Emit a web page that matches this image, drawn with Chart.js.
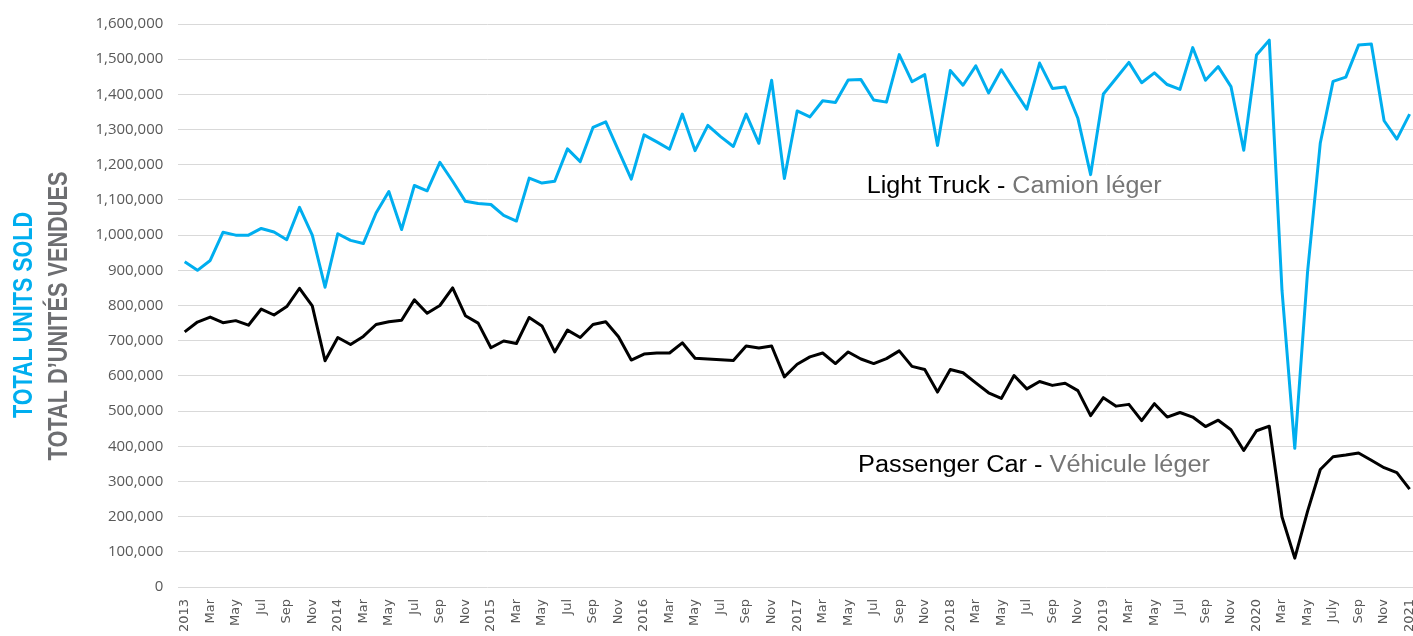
<!DOCTYPE html>
<html>
<head>
<meta charset="utf-8">
<style>
  html, body { margin: 0; padding: 0; background: #fff; overflow: hidden; }
  #wrap { width: 1413px; height: 636px; overflow: hidden; }
</style>
</head>
<body>
<div id="wrap"><canvas id="units-chart" width="1416" height="636"></canvas></div>
<script src="https://cdn.jsdelivr.net/npm/chart.js@4/dist/chart.umd.min.js"></script>
<script>
    // monthly, Jan 2013 .. Jan 2021
    var months = [
        '2013','Feb','Mar','Apr','May','Jun','Jul','Aug','Sep','Oct','Nov','Dec',
        '2014','Feb','Mar','Apr','May','Jun','Jul','Aug','Sep','Oct','Nov','Dec',
        '2015','Feb','Mar','Apr','May','Jun','Jul','Aug','Sep','Oct','Nov','Dec',
        '2016','Feb','Mar','Apr','May','Jun','Jul','Aug','Sep','Oct','Nov','Dec',
        '2017','Feb','Mar','Apr','May','Jun','Jul','Aug','Sep','Oct','Nov','Dec',
        '2018','Feb','Mar','Apr','May','Jun','Jul','Aug','Sep','Oct','Nov','Dec',
        '2019','Feb','Mar','Apr','May','Jun','Jul','Aug','Sep','Oct','Nov','Dec',
        '2020','Feb','Mar','Apr','May','Jun','July','Aug','Sep','Oct','Nov','Dec',
        '2021'
    ];

    var light_truck = [
        924000, 900000, 928000, 1008000, 1000000, 1000000, 1019000, 1009000, 987000, 1079000, 1000000, 852000,
        1004000, 985000, 976000, 1063000, 1124000, 1016000, 1141000, 1126000, 1207000, 1153000, 1096000, 1090000,
        1087000, 1056000, 1040000, 1162000, 1148000, 1153000, 1245000, 1209000, 1306000, 1322000, 1240000, 1159000,
        1285000, 1265000, 1244000, 1344000, 1240000, 1312000, 1280000, 1252000, 1344000, 1261000, 1440000, 1161000,
        1353000, 1336000, 1382000, 1377000, 1441000, 1442000, 1384000, 1378000, 1513000, 1436000, 1456000, 1255000,
        1468000, 1426000, 1481000, 1404000, 1470000, 1413000, 1358000, 1489000, 1417000, 1421000, 1332000, 1172000,
        1401000, 1446000, 1491000, 1433000, 1461000, 1428000, 1414000, 1533000, 1440000, 1479000, 1422000, 1241000,
        1512000, 1554000, 842000, 394000, 895000, 1262000, 1437000, 1449000, 1540000, 1543000, 1325000, 1273000,
        1344000
    ];

    var passenger_car = [
        725000, 753000, 767000, 751000, 757000, 744000, 790000, 773000, 797000, 849000, 799000, 643000,
        709000, 689000, 712000, 746000, 754000, 758000, 816000, 778000, 800000, 850000, 771000, 750000,
        680000, 699000, 692000, 766000, 742000, 668000, 730000, 709000, 746000, 754000, 711000, 645000,
        662000, 665000, 665000, 694000, 650000, 648000, 646000, 644000, 685000, 679000, 685000, 597000,
        633000, 654000, 665000, 635000, 668000, 648000, 635000, 649000, 671000, 627000, 618000, 554000,
        618000, 609000, 580000, 552000, 536000, 601000, 563000, 584000, 573000, 579000, 558000, 487000,
        538000, 514000, 519000, 473000, 521000, 483000, 496000, 483000, 456000, 474000, 447000, 388000,
        444000, 457000, 199000, 82000, 215000, 334000, 370000, 375000, 381000, 360000, 339000, 325000,
        278000
    ];

    var y_ticks = { min: 0, max: 1600000, step: 100000 };

    var blue = '#00aeef';
    var grey_text = '#767676';

    // series name labels: [x index, y value, english, french, width in px]
    var series_notes = [
        [53.45, 1119000, 'Light Truck - ', 'Camion léger', 295],
        [52.77, 326500, 'Passenger Car - ', 'Véhicule léger', 352]
    ];

    var axis_titles = [
        { text: 'TOTAL UNITS SOLD', color: blue, x: 32, y: 315, len: 206 },
        { text: 'TOTAL D\u2019UNITÉS VENDUES', color: '#6d6e71', x: 67, y: 316, len: 289 }
    ];

    var extra_text = {
        id: 'extra_text',
        afterDraw: function (chart) {
            var ctx = chart.ctx;
            var xs = chart.scales.x, ys = chart.scales.y;
            series_notes.forEach(function (n) {
                ctx.save();
                ctx.textBaseline = 'alphabetic';
                ctx.textAlign = 'left';
                ctx.font = '23px "Liberation Sans", Arial, sans-serif';
                var px = xs.getPixelForValue(n[0]);
                var py = ys.getPixelForValue(n[1]);
                var w1 = ctx.measureText(n[2]).width;
                var w2 = ctx.measureText(n[3]).width;
                ctx.translate(px, py);
                ctx.scale(n[4] / (w1 + w2), 1);
                ctx.fillStyle = '#000';
                ctx.fillText(n[2], 0, 0);
                ctx.fillStyle = grey_text;
                ctx.fillText(n[3], w1, 0);
                ctx.restore();
            });

            axis_titles.forEach(function (t) {
                ctx.save();
                ctx.font = 'bold 27px "Liberation Sans Narrow", "Liberation Sans", sans-serif';
                ctx.fillStyle = t.color;
                ctx.textAlign = 'center';
                ctx.textBaseline = 'alphabetic';
                ctx.translate(t.x, t.y);
                ctx.rotate(-Math.PI / 2);
                var w = ctx.measureText(t.text).width;
                ctx.scale(t.len / w, 1);
                ctx.fillText(t.text, 0, 0);
                ctx.restore();
            });
        }
    };

    new Chart(document.getElementById('units-chart'), {
        type: 'line',
        data: {
            labels: months,
            datasets: [{
                label: 'Light Truck - Camion léger',
                data: light_truck,
                borderColor: blue,
                borderWidth: 3,
                pointRadius: 0,
                tension: 0,
                fill: false,
                borderJoinStyle: 'round'
            }, {
                label: 'Passenger Car - Véhicule léger',
                data: passenger_car,
                borderColor: '#000000',
                borderWidth: 3,
                pointRadius: 0,
                tension: 0,
                fill: false,
                borderJoinStyle: 'round'
            }]
        },
        options: {
            responsive: false,
            animation: false,
            devicePixelRatio: 1,
            layout: { padding: { top: 22, left: 0, right: 0, bottom: 0 } },
            plugins: {
                legend: { display: false },
                tooltip: { enabled: false }
            },
            scales: {
                x: {
                    offset: true,
                    grid: { display: false, drawTicks: false },
                    border: { display: false },
                    ticks: {
                        autoSkip: false,
                        minRotation: 90,
                        maxRotation: 90,
                        padding: 12,
                        color: '#595959',
                        font: { family: '"DejaVu Sans", sans-serif', size: 13 },
                        callback: function (v, i) { return i % 2 === 0 ? this.getLabelForValue(v) : ''; }
                    },
                    afterFit: function (s) { s.height = 49; s.paddingLeft = 0; s.paddingRight = 0; }
                },
                y: {
                    min: y_ticks.min,
                    max: y_ticks.max,
                    grid: { color: '#d9d9d9', lineWidth: 1, drawTicks: false },
                    border: { display: false },
                    ticks: {
                        stepSize: y_ticks.step,
                        padding: 15,
                        color: '#595959',
                        font: { family: '"Open Sans", sans-serif', size: 15 },
                        callback: function (v) { return v.toLocaleString('en-US'); }
                    },
                    afterFit: function (s) { s.width = 178.3; }
                }
            }
        },
        plugins: [extra_text]
    });
</script>
</body>
</html>
